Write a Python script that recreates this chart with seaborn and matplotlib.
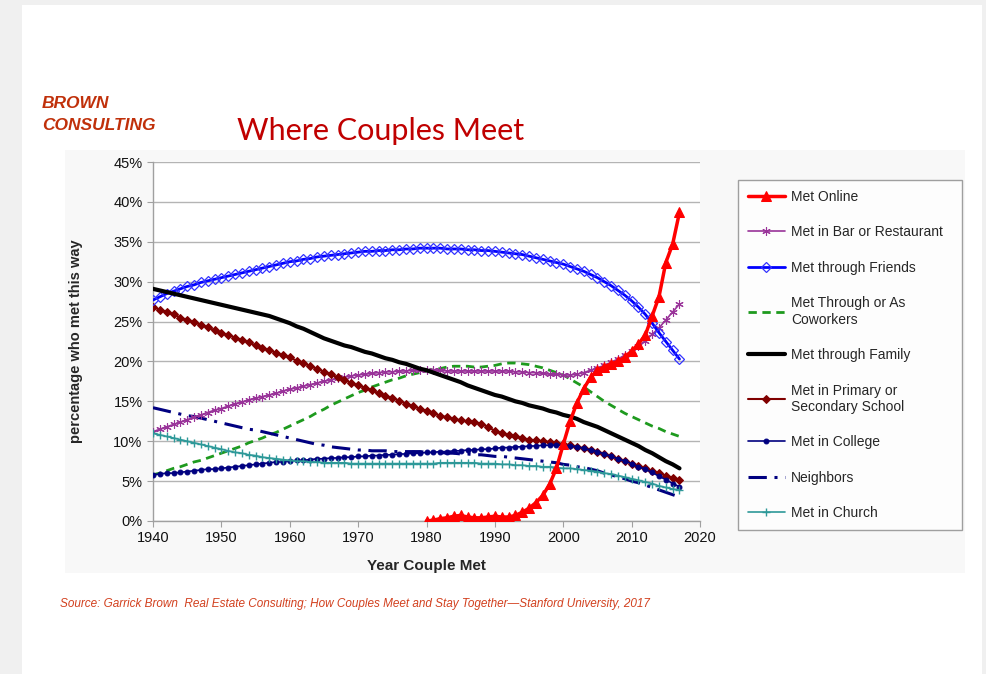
import pandas as pd
import seaborn as sns
import matplotlib.pyplot as plt
from matplotlib.patches import Rectangle
from matplotlib.ticker import PercentFormatter

# years for all series
years = list(range(1940, 2018))
online_years = list(range(1980, 2018))

online = [0.0, 0.1, 0.3, 0.4, 0.6, 0.7, 0.5, 0.4, 0.4, 0.5,
          0.6, 0.5, 0.5, 0.7, 1.1, 1.6, 2.3, 3.2, 4.6, 6.6,
          9.6, 12.5, 14.8, 16.6, 18.0, 18.9, 19.3, 19.7, 20.0, 20.5,
          21.3, 22.2, 23.3, 25.7, 28.1, 32.4, 34.7, 38.7]

bar = [11.2, 11.5, 11.8, 12.1, 12.4, 12.7, 13.0, 13.3, 13.6, 13.9,
       14.1, 14.4, 14.7, 14.9, 15.2, 15.4, 15.6, 15.8, 16.0, 16.3,
       16.5, 16.7, 16.9, 17.1, 17.3, 17.5, 17.7, 17.9, 18.0, 18.2,
       18.3, 18.4, 18.5, 18.6, 18.7, 18.7, 18.8, 18.8, 18.9, 18.9,
       18.9, 18.9, 18.9, 18.8, 18.8, 18.8, 18.8, 18.8, 18.8, 18.8,
       18.8, 18.8, 18.8, 18.7, 18.7, 18.6, 18.6, 18.5, 18.4, 18.4,
       18.3, 18.3, 18.4, 18.6, 18.9, 19.2, 19.5, 19.9, 20.3, 20.8,
       21.3, 21.9, 22.6, 23.4, 24.2, 25.2, 26.2, 27.2]

friends = [27.7, 28.1, 28.5, 28.8, 29.1, 29.4, 29.6, 29.9, 30.1, 30.3,
           30.5, 30.7, 30.9, 31.1, 31.3, 31.5, 31.7, 31.9, 32.1, 32.3,
           32.5, 32.6, 32.8, 32.9, 33.1, 33.2, 33.3, 33.4, 33.5, 33.6,
           33.7, 33.8, 33.8, 33.9, 33.9, 34.0, 34.0, 34.1, 34.1, 34.2,
           34.2, 34.2, 34.2, 34.1, 34.1, 34.1, 34.0, 34.0, 33.9, 33.9,
           33.8, 33.7, 33.6, 33.5, 33.4, 33.2, 33.0, 32.8, 32.6, 32.4,
           32.2, 31.9, 31.6, 31.3, 30.9, 30.5, 30.0, 29.5, 28.9, 28.3,
           27.6, 26.8, 25.9, 24.8, 23.6, 22.5, 21.4, 20.3]

coworkers = [5.8, 6.0, 6.3, 6.6, 6.8, 7.1, 7.4, 7.6, 7.9, 8.2,
             8.5, 8.8, 9.1, 9.4, 9.8, 10.1, 10.4, 10.8, 11.1, 11.5,
             11.9, 12.3, 12.7, 13.1, 13.6, 14.0, 14.5, 14.9, 15.3, 15.7,
             16.1, 16.4, 16.8, 17.1, 17.4, 17.7, 17.9, 18.2, 18.4, 18.6,
             18.8, 19.0, 19.1, 19.3, 19.4, 19.4, 19.4, 19.3, 19.3, 19.4,
             19.5, 19.7, 19.8, 19.8, 19.7, 19.6, 19.4, 19.2, 18.9, 18.6,
             18.3, 17.8, 17.3, 16.8, 16.2, 15.6, 15.0, 14.5, 14.0, 13.5,
             13.1, 12.7, 12.3, 11.9, 11.6, 11.2, 10.9, 10.6]

family = [29.1, 28.9, 28.7, 28.5, 28.3, 28.1, 27.9, 27.7, 27.5, 27.3,
          27.1, 26.9, 26.7, 26.5, 26.3, 26.1, 25.9, 25.7, 25.4, 25.1,
          24.8, 24.4, 24.1, 23.7, 23.3, 22.9, 22.6, 22.3, 22.0, 21.8,
          21.5, 21.2, 21.0, 20.7, 20.4, 20.2, 19.9, 19.7, 19.4, 19.1,
          18.9, 18.6, 18.3, 18.0, 17.7, 17.4, 17.0, 16.7, 16.4, 16.1,
          15.8, 15.6, 15.3, 15.0, 14.8, 14.5, 14.3, 14.1, 13.8, 13.6,
          13.3, 13.1, 12.8, 12.4, 12.1, 11.8, 11.4, 11.0, 10.6, 10.2,
          9.8, 9.4, 8.9, 8.5, 8.0, 7.5, 7.1, 6.6]

school = [26.8, 26.5, 26.2, 25.9, 25.5, 25.2, 24.9, 24.6, 24.3, 23.9,
          23.6, 23.3, 23.0, 22.7, 22.4, 22.0, 21.7, 21.4, 21.1, 20.8,
          20.5, 20.1, 19.8, 19.4, 19.1, 18.7, 18.4, 18.0, 17.7, 17.3,
          17.0, 16.7, 16.4, 16.0, 15.7, 15.4, 15.1, 14.7, 14.4, 14.1,
          13.8, 13.5, 13.2, 13.0, 12.8, 12.6, 12.5, 12.4, 12.2, 11.8,
          11.3, 11.0, 10.8, 10.6, 10.4, 10.2, 10.1, 10.0, 9.9, 9.8,
          9.6, 9.5, 9.3, 9.1, 8.9, 8.7, 8.4, 8.1, 7.8, 7.5,
          7.2, 6.9, 6.6, 6.3, 6.0, 5.7, 5.4, 5.1]

college = [5.8, 5.9, 6.0, 6.0, 6.1, 6.2, 6.3, 6.4, 6.5, 6.5,
           6.6, 6.7, 6.8, 6.9, 7.0, 7.1, 7.2, 7.3, 7.4, 7.4,
           7.5, 7.6, 7.6, 7.7, 7.8, 7.8, 7.9, 7.9, 8.0, 8.0,
           8.1, 8.1, 8.2, 8.2, 8.3, 8.3, 8.4, 8.4, 8.5, 8.5,
           8.6, 8.6, 8.7, 8.7, 8.8, 8.8, 8.9, 8.9, 9.0, 9.0,
           9.1, 9.2, 9.2, 9.3, 9.3, 9.4, 9.4, 9.5, 9.5, 9.5,
           9.5, 9.4, 9.3, 9.1, 8.9, 8.7, 8.4, 8.1, 7.8, 7.5,
           7.2, 6.8, 6.5, 6.1, 5.6, 5.2, 4.7, 4.3]

neighbors = [14.2, 14.0, 13.8, 13.6, 13.4, 13.2, 13.1, 12.9, 12.7, 12.5,
             12.3, 12.1, 11.9, 11.7, 11.5, 11.4, 11.2, 11.0, 10.8, 10.6,
             10.4, 10.2, 10.0, 9.8, 9.6, 9.5, 9.3, 9.2, 9.1, 9.0,
             8.9, 8.9, 8.8, 8.8, 8.8, 8.7, 8.7, 8.7, 8.7, 8.7,
             8.6, 8.6, 8.6, 8.5, 8.5, 8.4, 8.4, 8.3, 8.3, 8.2,
             8.1, 8.1, 8.0, 7.9, 7.8, 7.7, 7.6, 7.5, 7.4, 7.3,
             7.1, 7.0, 6.8, 6.7, 6.5, 6.3, 6.0, 5.8, 5.5, 5.3,
             5.0, 4.8, 4.5, 4.2, 3.9, 3.6, 3.3, 3.0]

church = [11.0, 10.8, 10.6, 10.4, 10.2, 10.0, 9.8, 9.6, 9.4, 9.2,
          9.0, 8.8, 8.6, 8.5, 8.3, 8.2, 8.0, 7.9, 7.8, 7.7,
          7.6, 7.5, 7.5, 7.4, 7.4, 7.3, 7.3, 7.3, 7.3, 7.2,
          7.2, 7.2, 7.2, 7.2, 7.2, 7.2, 7.2, 7.2, 7.2, 7.2,
          7.2, 7.2, 7.3, 7.3, 7.3, 7.3, 7.3, 7.3, 7.2, 7.2,
          7.2, 7.1, 7.1, 7.0, 7.0, 6.9, 6.9, 6.8, 6.8, 6.7,
          6.6, 6.6, 6.5, 6.4, 6.3, 6.2, 6.0, 5.9, 5.7, 5.5,
          5.3, 5.1, 4.9, 4.7, 4.4, 4.2, 4.0, 3.9]

W, H = 986, 674
sns.set_style('white')
plt.rcParams['font.family'] = ['Liberation Sans', 'DejaVu Sans']

fig = plt.figure(figsize=(W / 100, H / 100), dpi=100)
fig.patch.set_facecolor('#f0f0f0')

# white card and light chart panel, behind the axes
fig.patches.append(Rectangle((22 / W, 0), 960 / W, 1 - 5 / H, transform=fig.transFigure,
                             facecolor='white', edgecolor='none', zorder=-3))
fig.patches.append(Rectangle((65 / W, 1 - 573 / H), 900 / W, 423 / H, transform=fig.transFigure,
                             facecolor='#f8f8f8', edgecolor='none', zorder=-2))

ax = fig.add_axes([153 / W, 1 - 521 / H, 547 / W, 359 / H])
ax.set_facecolor('white')

# series styles, in legend order
sns.lineplot(x=online_years, y=online, ax=ax, color='#ff0000', lw=2.5, marker='^',
             markersize=7.5, markeredgecolor='#ff0000', label='Met Online', zorder=10)
sns.lineplot(x=years, y=bar, ax=ax, color='#993399', lw=1.2, marker=(6, 2, 0),
             markersize=6, markeredgecolor='#993399', markeredgewidth=0.8,
             label='Met in Bar or Restaurant', zorder=5)
sns.lineplot(x=years, y=friends, ax=ax, color='#0000ff', lw=2, marker='D',
             markersize=5.5, markerfacecolor='none', markeredgecolor='#3333ff',
             markeredgewidth=0.9, label='Met through Friends', zorder=6)
sns.lineplot(x=years, y=coworkers, ax=ax, color='#1e9a1e', lw=2, ls=(0, (3, 2)),
             label='Met Through or As\nCoworkers', zorder=4)
sns.lineplot(x=years, y=family, ax=ax, color='black', lw=3,
             label='Met through Family', zorder=7)
sns.lineplot(x=years, y=school, ax=ax, color='#800000', lw=1.5, marker='D',
             markersize=4.5, markeredgecolor='#800000',
             label='Met in Primary or\nSecondary School', zorder=5)
sns.lineplot(x=years, y=college, ax=ax, color='#000080', lw=1.2, marker='o',
             markersize=3.5, markeredgecolor='#000080',
             label='Met in College', zorder=5)
sns.lineplot(x=years, y=neighbors, ax=ax, color='#000080', lw=2.2, ls=(0, (6, 2.5, 1, 2.5)),
             label='Neighbors', zorder=4)
sns.lineplot(x=years, y=church, ax=ax, color='#2e9999', lw=1.2, marker='+',
             markersize=6, markeredgecolor='#2e9999', markeredgewidth=1,
             label='Met in Church', zorder=5)

ax.set_xlim(1940, 2020)
ax.set_ylim(0, 45)
ax.set_xticks(range(1940, 2021, 10))
ax.set_yticks(range(0, 46, 5))
ax.yaxis.set_major_formatter(PercentFormatter(xmax=100, decimals=0))
ax.grid(axis='y', color='#b4b4b4', lw=1)
ax.set_axisbelow(True)
for s in ['top', 'right']:
    ax.spines[s].set_visible(False)
for s in ['left', 'bottom']:
    ax.spines[s].set_color('#a0a0a0')
    ax.spines[s].set_linewidth(1)
ax.tick_params(axis='both', direction='out', length=4, color='#a0a0a0',
               labelsize=10.5, labelcolor='#111111', left=True, bottom=True)
ax.set_xlabel('Year Couple Met', fontsize=11, fontweight='bold', labelpad=10)
ax.set_ylabel('percentage who met this way', fontsize=10.5, fontweight='bold', labelpad=22)

leg = ax.legend(loc='upper left', bbox_to_anchor=(738 / W, 1 - 180 / H - 0.01, 224 / W, 0.01),
                bbox_transform=fig.transFigure, mode='expand', borderaxespad=0,
                fontsize=10, frameon=True, fancybox=False, handlelength=2.7,
                handletextpad=0.4, labelspacing=1.55, borderpad=0.7)
leg.get_frame().set_edgecolor('#888888')
leg.get_frame().set_linewidth(1)

fig.text(42 / W, 1 - 104 / H, 'BROWN', fontsize=12.5, fontweight='bold', fontstyle='italic',
         color='#c0300a', va='center')
fig.text(42 / W, 1 - 126 / H, 'CONSULTING', fontsize=12.5, fontweight='bold', fontstyle='italic',
         color='#c0300a', va='center')
fig.text(237 / W, 1 - 131 / H, 'Where Couples Meet', fontsize=22, color='#c00000',
         va='center', family=['Lato', 'DejaVu Sans'])
fig.text(60 / W, 1 - 604 / H,
         'Source: Garrick Brown  Real Estate Consulting; How Couples Meet and Stay Together\u2014Stanford University, 2017',
         fontsize=8.5, fontstyle='italic', color='#d2401e', va='center')

fig.savefig('out.png', dpi=100)
